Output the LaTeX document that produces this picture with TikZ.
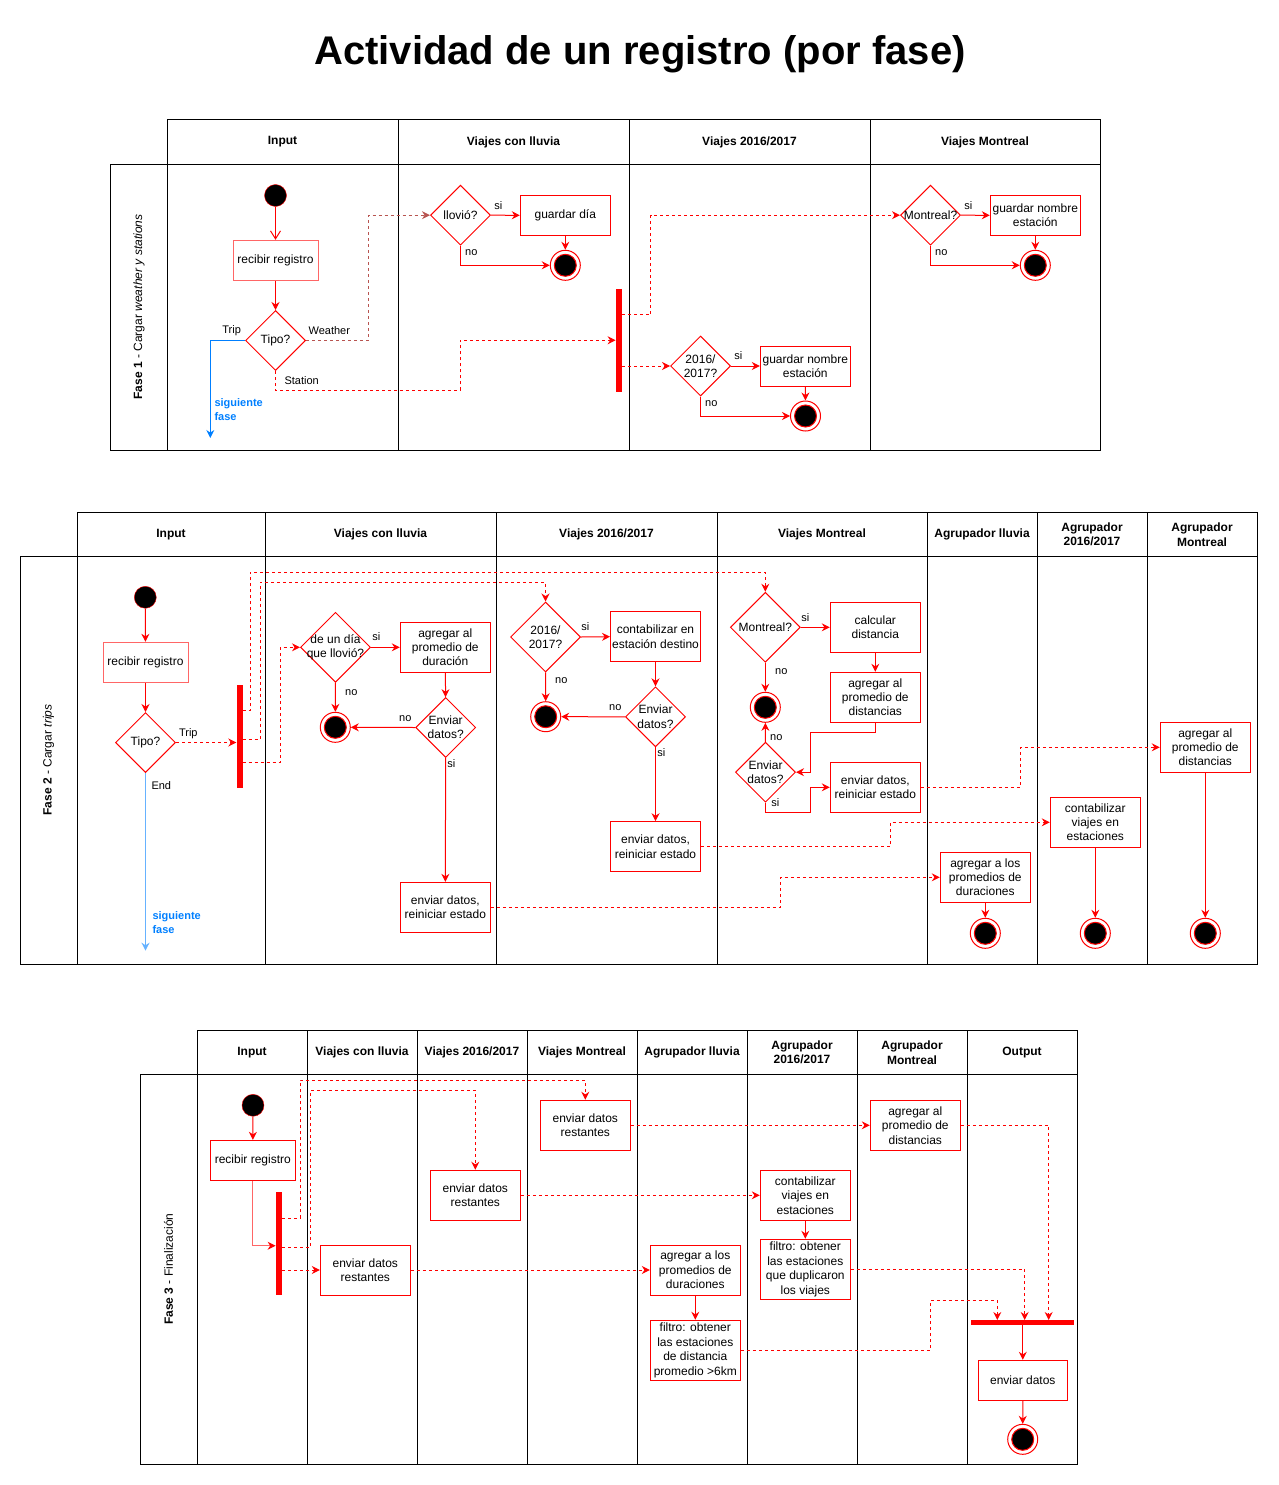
\documentclass[tikz,border=0pt]{standalone}
\usepackage{fontspec}
\setmainfont{Liberation Sans}
\usetikzlibrary{arrows.meta,shapes.geometric}
\definecolor{Red}{HTML}{FF0000}
\definecolor{SoftRed}{HTML}{FF6666}
\definecolor{DullRed}{HTML}{B85450}
\definecolor{Blue}{HTML}{007FFF}
\tikzset{
  lane/.style={draw=black,line width=1pt},
  lanehead/.style={font=\fontsize{12}{14.5}\selectfont\bfseries,align=center,inner sep=0pt},
  phase/.style={font=\fontsize{12}{14}\selectfont,rotate=90,inner sep=0pt},
  act/.style={draw=Red,fill=white,line width=1pt,minimum width=90pt,minimum height=50pt,inner sep=0pt,align=center,font=\fontsize{12}{14.4}\selectfont},
  dec/.style={diamond,draw=Red,fill=white,line width=1pt,minimum width=#1,minimum height=#1,inner sep=0pt},
  dec/.default=60pt,
  dtxt/.style={font=\fontsize{12}{14.4}\selectfont,align=center,inner sep=0pt},
  ini/.style={circle,fill=black,draw=Red,minimum size=22pt,inner sep=0pt},
  fin/.style={circle,draw=Red,fill=white,line width=1pt,minimum size=30pt,inner sep=0pt,
    path picture={\filldraw[draw=Red,fill=black] (path picture bounding box.center) circle (11pt);}},
  bar/.style={fill=Red,inner sep=0pt,minimum width=6pt,minimum height=103pt},
  lbl/.style={font=\fontsize{11}{13}\selectfont,inner sep=0pt},
  nxt/.style={font=\fontsize{11}{14}\selectfont\bfseries,text=Blue,align=left,inner sep=0pt,anchor=west},
  flow/.style={draw=Red,line width=1pt,-{Stealth[length=8pt,width=8pt]}},
  msg/.style={flow,dash pattern=on 3pt off 3pt},
  trig/.style={draw=Blue,line width=1pt,-{Stealth[length=8pt,width=8pt]}},
  openflow/.style={draw=Red,line width=1pt,-{Straight Barb[length=8pt,width=10pt]}}
}
\begin{document}
\begin{tikzpicture}[x=1pt,y=-1pt]
  \useasboundingbox (0,0) rectangle (1278,1485);
  \node[font=\fontsize{40}{48}\selectfont\bfseries,anchor=base] (title) at (640,65) {Actividad de un registro (por fase)};

  \draw[lane] (167,120) rectangle (1100,450) (110,164) rectangle (167,450) (167,164) -- (1100,164);
  \foreach \x in {398,629,870} \draw[lane] (\x,120) -- (\x,450);
  \foreach \a/\b/\t [count=\i] in {167/398/Input,398/629/Viajes con lluvia,629/870/{Viajes 2016/2017},870/1100/Viajes Montreal}
    \node[lanehead] (ha\i) at ({(\a+\b)/2},142) {\t};
  \node[phase] (ph1) at (139,307) {\textbf{Fase 1} - Cargar \textit{weather y stations}};

  \draw[lane] (77,512) rectangle (1257,964) (20,556) rectangle (77,964) (77,556) -- (1257,556);
  \foreach \x in {265,496,717,927,1037,1147} \draw[lane] (\x,512) -- (\x,964);
  \foreach \a/\b/\t [count=\i] in {77/265/Input,265/496/Viajes con lluvia,496/717/{Viajes 2016/2017},717/927/Viajes Montreal,927/1037/Agrupador lluvia,1037/1147/{Agrupador\\2016/2017},1147/1257/{Agrupador\\Montreal}}
    \node[lanehead] (hb\i) at ({(\a+\b)/2},534.5) {\t};
  \node[phase] (ph2) at (48.5,760) {\textbf{Fase 2} - Cargar \textit{trips}};

  \draw[lane] (197,1030) rectangle (1077,1464) (140,1074) rectangle (197,1464) (197,1074) -- (1077,1074);
  \foreach \x in {307,417,527,637,747,857,967} \draw[lane] (\x,1030) -- (\x,1464);
  \foreach \a/\b/\t [count=\i] in {197/307/Input,307/417/Viajes con lluvia,417/527/{Viajes 2016/2017},527/637/Viajes Montreal,637/747/Agrupador lluvia,747/857/{Agrupador\\2016/2017},857/967/{Agrupador\\Montreal},967/1077/Output}
    \node[lanehead] (hc\i) at ({(\a+\b)/2},1052.5) {\t};
  \node[phase] (ph3) at (168.5,1269) {\textbf{Fase 3} - Finalización};

  \node[ini] (st1) at (275.5,195.5) {};
  \node[act,draw=SoftRed,minimum width=85pt,minimum height=40pt] (rec1) at (275.5,260.3) {recibir registro};
  \node[dec,label={[dtxt]center:Tipo?}] (tipo1) at (275.5,340.5) {};
  \coordinate (nx1) at (210.3,438);
  \node[dec,label={[dtxt]center:llovió?}] (llovio) at (460.5,215.2) {};
  \node[act,minimum height=40pt] (gdia) at (565.3,215.3) {guardar día};
  \node[fin] (fin11) at (565.3,265.3) {};
  \node[bar] (bar1) at (618.8,340.3) {};
  \node[dec,label={[dtxt]center:{2016/\\2017?}}] (a16) at (700.5,366) {};
  \node[act,minimum height=40pt] (gne1) at (805.3,366) {guardar nombre\\estación};
  \node[fin] (fin12) at (805.5,416) {};
  \node[dec,label={[dtxt]center:Montreal?}] (mtl1) at (930.5,215.2) {};
  \node[act,minimum height=40pt] (gne2) at (1035.3,215.3) {guardar nombre\\estación};
  \node[fin] (fin13) at (1035.3,265.3) {};

  \draw[openflow] (st1) -- (rec1);
  \draw[flow] (rec1) -- (tipo1);
  \draw[trig] (tipo1.west) -| (nx1);
  \draw[msg,draw=DullRed] (tipo1.east) -| (368,215.2) -- (llovio.west);
  \draw[msg] (tipo1.south) |- (460.3,390.3) |- (bar1.west);
  \draw[flow] (llovio.east) -- (gdia.west);
  \draw[flow] (gdia) -- (fin11);
  \draw[flow] (llovio.south) |- (fin11.west);
  \draw[msg] ([yshift=25.5pt]bar1.east) -| (650.7,215.2) -- (mtl1.west);
  \draw[msg] (bar1.east |- a16.west) -- (a16.west);
  \draw[flow] (a16.east) -- (gne1.west);
  \draw[flow] (gne1) -- (fin12);
  \draw[flow] (a16.south) |- (fin12.west);
  \draw[flow] (mtl1.east) -- (gne2.west);
  \draw[flow] (gne2) -- (fin13);
  \draw[flow] (mtl1.south) |- (fin13.west);

  \node[lbl] (la1) at (231.7,331) {Trip};
  \node[lbl] (la2) at (329.3,331) {Weather};
  \node[lbl] (la3) at (301.7,381) {Station};
  \node[nxt] (nxa) at (214.3,410) {siguiente\\fase};
  \node[lbl] (la4) at (498.3,206) {si};
  \node[lbl] (la5) at (471.3,252.3) {no};
  \node[lbl] (la6) at (738.3,356) {si};
  \node[lbl] (la7) at (711.3,403.3) {no};
  \node[lbl] (la8) at (968.3,206) {si};
  \node[lbl] (la9) at (941.3,252.3) {no};

  \node[ini] (st2) at (145.3,597.3) {};
  \node[act,draw=SoftRed,minimum width=85pt,minimum height=40pt] (rec2) at (145.5,662.3) {recibir registro};
  \node[dec,label={[dtxt]center:Tipo?}] (tipo2) at (145.5,742.5) {};
  \coordinate (nx2) at (145.5,950.7);
  \node[bar] (bar2) at (239.5,736.7) {};
  \node[dec=70pt,label={[dtxt]center:{de un día\\que llovió?}}] (lluv2) at (335.5,647.3) {};
  \node[act] (apd) at (445.3,647.3) {agregar al\\promedio de\\duración};
  \node[fin] (fin21) at (335.3,727.3) {};
  \node[dec,label={[dtxt]center:{Enviar\\datos?}}] (env21) at (445.7,727.5) {};
  \node[act] (edr1) at (445.3,907.3) {enviar datos,\\reiniciar estado};
  \node[dec=70pt,label={[dtxt]center:{2016/\\2017?}}] (a162) at (545.5,637) {};
  \node[act] (ced) at (655.5,636.7) {contabilizar en\\estación destino};
  \node[fin] (fin22) at (545.7,716.7) {};
  \node[dec,label={[dtxt]center:{Enviar\\datos?}}] (env22) at (655.5,716.8) {};
  \node[act] (edr2) at (655.5,846.7) {enviar datos,\\reiniciar estado};
  \node[dec=70pt,label={[dtxt]center:Montreal?}] (mtl2) at (765.3,627.3) {};
  \node[act] (cdi) at (875.3,627.3) {calcular\\distancia};
  \node[act] (apdi) at (875.3,697.3) {agregar al\\promedio de\\distancias};
  \node[fin] (fin23) at (765.3,707.3) {};
  \node[dec,label={[dtxt]center:{Enviar\\datos?}}] (env23) at (765.5,772.2) {};
  \node[act] (edr3) at (875.3,787.3) {enviar datos,\\reiniciar estado};
  \node[act] (apds) at (985.3,877.3) {agregar a los\\promedios de\\duraciones};
  \node[act] (cve) at (1095.3,822.3) {contabilizar\\viajes en\\estaciones};
  \node[act] (apdm) at (1205.3,747.3) {agregar al\\promedio de\\distancias};
  \node[fin] (fin24) at (985.3,933.3) {};
  \node[fin] (fin25) at (1095.3,933.3) {};
  \node[fin] (fin26) at (1205.3,933.3) {};

  \draw[flow] (st2) -- (rec2);
  \draw[flow] (rec2) -- (tipo2);
  \draw[msg] (tipo2.east) -- (bar2.west |- tipo2.east);
  \draw[trig,draw=Blue!60] (tipo2.south) -- (nx2);
  \draw[msg] ([yshift=26pt]bar2.east) -| (250.3,572.3) -| (mtl2.north);
  \draw[msg] ([yshift=-2.6pt]bar2.east) -| (260,582) -| (a162.north);
  \draw[msg] ([yshift=-25.6pt]bar2.east) -| (280,647.3) -- (lluv2.west);
  \draw[flow] (lluv2.east) -- (apd.west);
  \draw[flow] (lluv2) -- (fin21);
  \draw[flow] (apd) -- (env21);
  \draw[flow] (env21.west) -- (fin21.east);
  \draw[flow] (env21) -- (edr1);
  \draw[msg] (edr1.east) -| (780.3,877.3) -- (apds.west);
  \draw[flow] (a162.east) -- (ced.west);
  \draw[flow] (a162) -- (fin22);
  \draw[flow] (ced) -- (env22);
  \draw[flow] (env22.west) -- (fin22.east);
  \draw[flow] (env22) -- (edr2);
  \draw[msg] (edr2.east) -| (890.3,822.3) -- (cve.west);
  \draw[flow] (mtl2.east) -- (cdi.west);
  \draw[flow] (mtl2) -- (fin23);
  \draw[flow] (cdi) -- (apdi);
  \draw[flow] (apdi.south) |- (810.3,732.3) |- (env23.east);
  \draw[flow] (env23) -- (fin23);
  \draw[flow] (env23.south) |- (810.3,812.3) |- (edr3.west);
  \draw[msg] (edr3.east) -| (1020.3,747.3) -- (apdm.west);
  \draw[flow] (apds) -- (fin24);
  \draw[flow] (cve) -- (fin25);
  \draw[flow] (apdm) -- (fin26);

  \node[lbl] (lb1) at (188.3,733.3) {Trip};
  \node[lbl] (lb2) at (161.3,786) {End};
  \node[nxt] (nxb) at (152.3,923) {siguiente\\fase};
  \node[lbl] (lb3) at (376.3,637) {si};
  \node[lbl] (lb4) at (351.3,692.3) {no};
  \node[lbl] (lb5) at (405.3,718.3) {no};
  \node[lbl] (lb6) at (451.3,763.3) {si};
  \node[lbl] (lb7) at (585.3,626.3) {si};
  \node[lbl] (lb8) at (561.3,680.3) {no};
  \node[lbl] (lb9) at (615.3,707.3) {no};
  \node[lbl] (lb10) at (661.3,752.3) {si};
  \node[lbl] (lb11) at (805.3,617.3) {si};
  \node[lbl] (lb12) at (781.3,671.3) {no};
  \node[lbl] (lb13) at (776.3,737.3) {no};
  \node[lbl] (lb14) at (775.3,803) {si};

  \node[ini] (st3) at (253,1105.3) {};
  \node[act,minimum width=85pt,minimum height=40pt] (rec3) at (252.8,1160.3) {recibir registro};
  \node[bar] (bar3) at (278.8,1243.7) {};
  \node[act] (edl) at (365.3,1270) {enviar datos\\restantes};
  \node[act] (ed16) at (475.3,1195.3) {enviar datos\\restantes};
  \node[act] (edm) at (585.3,1125.3) {enviar datos\\restantes};
  \node[act] (apds3) at (695.3,1270) {agregar a los\\promedios de\\duraciones};
  \node[act] (cve3) at (805.3,1195.3) {contabilizar\\viajes en\\estaciones};
  \node[act] (apdm3) at (915.3,1125.3) {agregar al\\promedio de\\distancias};
  \node[act,minimum height=60pt] (fil1) at (695.3,1350.3) {filtro: obtener\\las estaciones\\de distancia\\promedio >6km};
  \node[act,minimum height=60pt] (fil2) at (805.3,1269.3) {filtro: obtener\\las estaciones\\que duplicaron\\los viajes};
  \node[bar,minimum width=103pt,minimum height=5pt] (bar4) at (1022.8,1322.7) {};
  \node[act,minimum width=89pt,minimum height=40pt] (envd) at (1022.8,1380.3) {enviar datos};
  \node[fin] (fin3) at (1022.7,1439.3) {};

  \draw[flow] (st3) -- (rec3);
  \draw[draw=SoftRed,line width=1pt,-{Stealth[length=8pt,width=8pt,color=Red]}] (rec3.south) |- ([yshift=-2pt]bar3.west);
  \draw[msg] ([yshift=25.7pt]bar3.east) -| (300.3,1080.3) -| (edm.north);
  \draw[msg] ([yshift=-3.6pt]bar3.east) -| (310.3,1090.3) -| (ed16.north);
  \draw[msg] (bar3.east |- edl.west) -- (edl.west);
  \draw[msg] (edl.east) -- (apds3.west);
  \draw[msg] (ed16.east) -- (cve3.west);
  \draw[msg] (edm.east) -- (apdm3.west);
  \draw[flow] (apds3) -- (fil1);
  \draw[flow] (cve3) -- (fil2);
  \draw[msg] (fil1.east) -| (930.7,1300.3) -| ([xshift=-25.5pt]bar4.north);
  \draw[msg] (fil2.east) -| ([xshift=1.9pt]bar4.north);
  \draw[msg] (apdm3.east) -| ([xshift=25.9pt]bar4.north);
  \draw[flow] (bar4) -- (envd);
  \draw[flow] (envd) -- (fin3);
\end{tikzpicture}
\end{document}
